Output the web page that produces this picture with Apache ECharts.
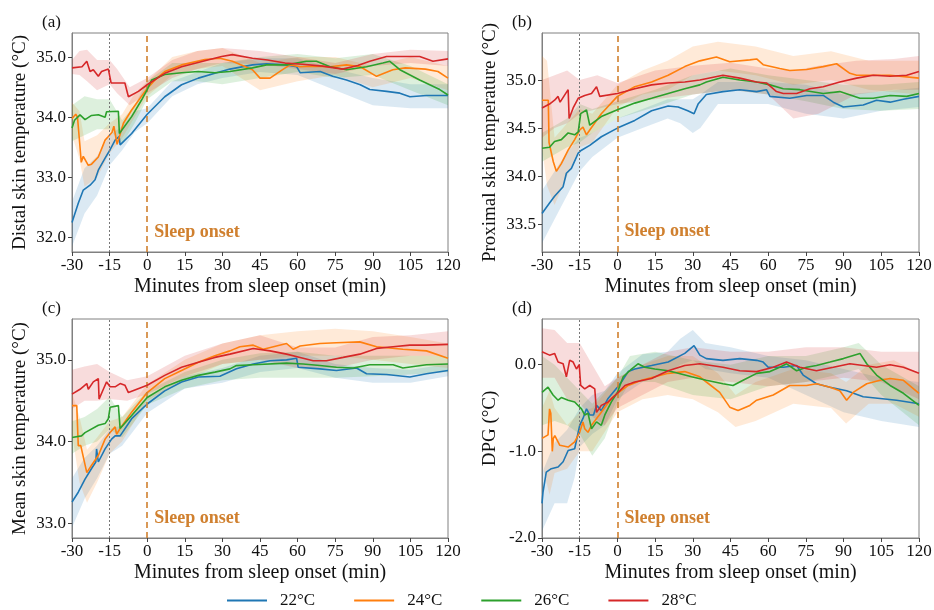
<!DOCTYPE html>
<html><head><meta charset="utf-8">
<script src="https://cdn.jsdelivr.net/npm/echarts@6/dist/echarts.min.js"></script>
<style>html,body{margin:0;padding:0;background:#fff}#c{width:934px;height:610px}</style>
</head><body><div id="c"></div>
<script>
// ---------- labels ----------
const temps = ['22°C', '24°C', '26°C', '28°C'];
const panelLetters = ['(a)', '(b)', '(c)', '(d)'];
const yTitles = ['Distal skin temperature (°C)', 'Proximal skin temperature (°C)', 'Mean skin temperature (°C)', 'DPG (°C)'];
const xTitle = 'Minutes from sleep onset (min)';
const xTicks = [-30, -15, 0, 15, 30, 45, 60, 75, 90, 105, 120];
const yTicksA = [32.0, 33.0, 34.0, 35.0];
const yTicksB = [33.5, 34.0, 34.5, 35.0];
const yTicksC = [33.0, 34.0, 35.0];
const yTicksD = [-2.0, -1.0, 0.0];
const yRanges = [[31.76, 35.40], [33.21, 35.49], [32.82, 35.50], [-2.0, 0.527]];
const sleepOnsetLabelY = [32.09, 33.42, 33.06, -1.77];
const markerLines = [-15, 0];

// ---------- (a) distal ----------
const distal22 = [[-30,32.25],[-27.5,32.57],[-25.5,32.79],[-22.8,32.87],[-20.8,32.96],[-19.5,33.12],[-16.8,33.32],[-14.8,33.46],[-12.8,33.62],[-11.2,33.68],[-10.8,33.54],[-6.2,33.73],[0,34.05],[7,34.34],[13.7,34.54],[20.4,34.65],[27,34.73],[33,34.8],[42,34.87],[47.6,34.89],[55.6,34.87],[59.6,34.84],[61,34.74],[69,34.76],[74,34.68],[79.5,34.62],[85,34.54],[88.8,34.46],[95.5,34.43],[100.8,34.4],[104.8,34.34],[111.4,34.36],[120,34.36]];
const distal24 = [[-30,33.98],[-28.5,34.05],[-27.8,34.0],[-27,33.6],[-26.3,33.25],[-25.5,33.35],[-23.5,33.2],[-22.2,33.22],[-19.5,33.34],[-16.8,33.62],[-15.5,33.68],[-14,33.75],[-13.3,33.85],[-12,33.55],[-9.5,33.9],[-6.2,34.12],[0,34.48],[3.1,34.62],[7,34.76],[13.7,34.87],[23,34.96],[29,34.98],[34,34.93],[42,34.79],[45,34.65],[49,34.65],[54,34.79],[57,34.87],[61,34.84],[66,34.85],[73,34.84],[79.5,34.87],[85,34.84],[91.5,34.68],[98,34.79],[103,34.82],[111,34.8],[116,34.76],[120,34.65]];
const distal26 = [[-30,33.82],[-29,33.95],[-26.8,34.04],[-24.8,33.96],[-22.2,34.03],[-19.5,34.04],[-16.8,34.0],[-16.2,34.09],[-11.5,34.1],[-11.1,33.73],[-6.2,34.01],[-2.2,34.29],[0,34.46],[1.8,34.62],[7,34.71],[13.7,34.74],[20.4,34.76],[27,34.74],[33,34.76],[42,34.82],[47.6,34.87],[55.6,34.87],[63.5,34.93],[67.5,34.93],[73,34.84],[79.5,34.79],[87.5,34.84],[94,34.9],[96.8,34.93],[100.8,34.79],[108.7,34.62],[116.7,34.46],[120,34.37]];
const distal28 = [[-30,34.82],[-26,34.84],[-24.1,34.93],[-22.8,34.76],[-21.5,34.79],[-19.5,34.68],[-18.2,34.76],[-15.5,34.8],[-14.8,34.82],[-14.4,34.57],[-8.9,34.57],[-7.5,34.34],[-3.5,34.43],[0,34.54],[7,34.73],[13.7,34.84],[23,34.94],[29.7,35.01],[34,35.04],[42,34.98],[48,34.95],[55,34.9],[62,34.88],[70,34.85],[78,34.8],[84,34.86],[88.8,34.93],[95.5,35.01],[108.7,35.01],[114,34.93],[120,34.97]];
const distal22Band = [[-30,31.85,32.6],[-25,32.4,33.15],[-20,32.7,33.35],[-15,33.2,33.7],[-10,33.45,33.85],[-5,33.75,34.1],[0,33.9,34.15],[10,34.35,34.6],[20,34.55,34.75],[30,34.65,34.9],[45,34.75,34.98],[60,34.7,34.98],[75,34.45,34.8],[90,34.2,34.65],[105,34.15,34.55],[120,34.15,34.55]];
const distal24Band = [[-30,33.7,34.25],[-27,33.3,34.1],[-25,32.85,33.6],[-20,33.0,33.7],[-15,33.4,33.9],[-10,33.65,34.05],[-5,34.0,34.4],[0,34.35,34.6],[10,34.7,35.0],[20,34.8,35.1],[30,34.85,35.15],[45,34.45,34.9],[60,34.6,35.0],[75,34.7,35.0],[90,34.5,34.85],[105,34.65,35.0],[120,34.45,34.85]];
const distal26Band = [[-30,33.6,34.2],[-25,33.7,34.35],[-20,33.8,34.3],[-15,33.8,34.3],[-10,33.55,33.95],[-5,33.9,34.2],[0,34.3,34.6],[10,34.6,34.9],[20,34.6,34.9],[30,34.55,34.9],[45,34.65,35.0],[60,34.75,35.05],[75,34.65,34.98],[90,34.7,35.05],[105,34.45,34.85],[120,34.2,34.55]];
const distal28Band = [[-30,34.72,34.95],[-27,34.7,35.1],[-24,34.6,35.12],[-20,34.45,34.95],[-15,34.55,34.95],[-12,34.4,34.8],[-7,34.2,34.5],[0,34.4,34.65],[10,34.65,34.95],[20,34.8,35.1],[30,34.9,35.15],[45,34.88,35.1],[60,34.8,35.0],[75,34.72,34.9],[90,34.85,35.05],[105,34.9,35.12],[120,34.85,35.1]];

// ---------- (b) proximal ----------
const proximal22 = [[-30,33.61],[-27,33.72],[-25,33.79],[-21.6,33.89],[-20.3,34.03],[-18.3,34.08],[-15.6,34.24],[-14.3,34.27],[-11,34.32],[-6.4,34.41],[0,34.5],[6.9,34.58],[13.6,34.68],[20.2,34.73],[24.2,34.72],[28,34.68],[30.5,34.65],[32.1,34.75],[35.4,34.85],[42,34.88],[48.7,34.9],[55.4,34.88],[59.3,34.9],[60.7,34.83],[68.6,34.81],[75.3,34.84],[81.9,34.84],[85.9,34.77],[89.9,34.72],[97.8,34.74],[103.1,34.79],[108.5,34.77],[113.8,34.8],[120,34.83]];
const proximal24 = [[-30,34.79],[-27.5,34.79],[-27.2,34.35],[-25.5,34.15],[-24.3,34.05],[-22.3,34.13],[-19.6,34.27],[-17,34.38],[-15,34.48],[-13.7,34.51],[-12.3,34.43],[-11,34.48],[-6.4,34.65],[0,34.83],[6.9,34.93],[13.6,34.98],[20.2,35.05],[26.8,35.14],[32.8,35.2],[39.4,35.24],[44.7,35.19],[52.7,35.21],[55.4,35.22],[58,35.16],[64.6,35.12],[68.6,35.1],[75.3,35.11],[81.9,35.14],[87.2,35.17],[92.5,35.07],[95.2,35.05],[108.5,35.05],[120,35.02]];
const proximal26 = [[-30,34.29],[-27,34.3],[-25,34.36],[-22.3,34.38],[-19.6,34.45],[-17,34.43],[-15.6,34.46],[-14.6,34.65],[-12.3,34.69],[-11,34.53],[-6.4,34.62],[0,34.69],[6.9,34.76],[13.6,34.81],[20.2,34.86],[26.8,34.91],[32.8,34.95],[35.4,34.98],[42,35.03],[48.7,35.0],[55.4,34.98],[60.7,34.95],[66,34.91],[72.6,34.9],[81.9,34.86],[88.5,34.88],[96.5,34.81],[101.8,34.81],[108.5,34.84],[115.1,34.83],[120,34.86]];
const proximal28 = [[-30,34.71],[-27,34.75],[-25,34.79],[-23.6,34.83],[-22.8,34.77],[-19.6,34.9],[-19.2,34.6],[-17.6,34.71],[-15.6,34.81],[-13,34.84],[-10.3,34.86],[-8.3,34.93],[-7,34.83],[0,34.86],[3,34.88],[6.9,34.91],[13.6,34.95],[20.2,34.97],[26.8,34.98],[32.8,35.0],[42,35.05],[48.7,35.02],[55.4,34.98],[59.3,34.97],[63.3,34.88],[66,34.86],[71.3,34.86],[76.6,34.91],[81.9,34.93],[88.5,34.98],[95.2,35.02],[101.8,35.05],[108.5,35.04],[115.1,35.05],[120,35.09]];
const proximal22Band = [[-30,33.3,33.85],[-25,33.55,34.05],[-20,33.8,34.25],[-15,34.05,34.4],[-10,34.2,34.45],[0,34.4,34.6],[10,34.5,34.7],[20,34.6,34.8],[25,34.55,34.8],[30,34.45,34.8],[33,34.5,34.85],[40,34.75,34.98],[60,34.75,34.98],[75,34.65,34.95],[90,34.6,34.85],[105,34.68,34.88],[120,34.72,34.92]];
const proximal24Band = [[-30,34.3,35.25],[-28,33.9,35.2],[-25,33.7,34.4],[-20,34.0,34.55],[-15,34.3,34.7],[-10,34.35,34.65],[0,34.72,34.95],[10,34.85,35.1],[20,34.9,35.2],[30,35.05,35.35],[40,35.1,35.4],[55,35.05,35.35],[70,34.95,35.25],[85,35.0,35.3],[100,34.9,35.2],[120,34.85,35.2]];
const proximal26Band = [[-30,34.15,34.45],[-20,34.3,34.6],[-15,34.35,34.75],[-10,34.45,34.7],[0,34.6,34.78],[15,34.72,34.9],[30,34.85,35.05],[45,34.9,35.12],[60,34.85,35.05],[75,34.78,35.0],[90,34.7,34.95],[105,34.68,34.95],[120,34.7,34.98]];
const proximal28Band = [[-30,34.4,35.0],[-25,34.5,35.05],[-20,34.55,35.1],[-15,34.65,35.0],[-8,34.7,35.05],[0,34.75,34.97],[15,34.8,35.1],[30,34.85,35.15],[45,34.9,35.18],[60,34.85,35.12],[70,34.6,35.1],[80,34.65,35.15],[95,34.85,35.2],[110,34.9,35.22],[120,34.9,35.25]];

// ---------- (c) mean ----------
const mean22 = [[-30,33.26],[-27.5,33.38],[-24.8,33.54],[-22.2,33.67],[-20.5,33.75],[-20.2,33.91],[-19.5,33.75],[-16.8,33.91],[-14.2,34.03],[-12.8,34.07],[-10.8,34.07],[-6.2,34.28],[0,34.46],[7,34.62],[13.7,34.73],[20.4,34.79],[29,34.8],[35.6,34.89],[42.3,34.95],[49,34.99],[55.6,35.0],[59.6,35.02],[60.2,34.91],[68.9,34.89],[75.5,34.87],[83.5,34.9],[87.5,34.83],[95.5,34.82],[104.8,34.79],[111.4,34.83],[120,34.87]];
const mean24 = [[-30,34.44],[-28.1,34.44],[-27.5,33.95],[-26.5,33.95],[-24.1,33.62],[-22.2,33.71],[-19.5,33.83],[-16.8,34.03],[-14.8,34.11],[-12.8,34.18],[-12.2,34.09],[-10.8,34.16],[-6.2,34.36],[0,34.6],[7,34.77],[13.7,34.87],[20.4,34.97],[27,35.05],[33,35.11],[37,35.16],[42.3,35.18],[46.3,35.13],[55.6,35.2],[58.2,35.13],[61,35.17],[68.9,35.2],[75.5,35.21],[84.8,35.22],[91.5,35.16],[102,35.13],[111.4,35.11],[120,35.02]];
const mean26 = [[-30,34.05],[-26.2,34.07],[-24.8,34.11],[-19.5,34.2],[-16.8,34.22],[-15.5,34.28],[-14.8,34.42],[-11.5,34.44],[-10.8,34.16],[-6.2,34.32],[0,34.54],[7,34.67],[13.7,34.75],[20.4,34.81],[27,34.85],[33,34.89],[35.6,34.93],[42.3,34.94],[55.6,34.96],[62.2,34.95],[68.9,34.93],[75.5,34.91],[82.2,34.9],[88.8,34.94],[98.1,34.94],[102,34.9],[111.4,34.94],[120,34.95]];
const mean28 = [[-30,34.58],[-26.8,34.64],[-24.1,34.71],[-23.5,34.64],[-21.5,34.73],[-19.5,34.77],[-19.2,34.52],[-17.5,34.64],[-16.2,34.73],[-14.8,34.67],[-12.8,34.67],[-10.8,34.71],[-8.9,34.69],[-7.5,34.6],[0,34.69],[7,34.81],[13.7,34.91],[20.4,34.97],[27,35.03],[33,35.07],[42.3,35.14],[49,35.11],[55.6,35.07],[61,35.03],[66.2,34.99],[71.5,34.99],[78.2,35.03],[84.8,35.07],[91.5,35.14],[98.1,35.16],[104.8,35.18],[111.4,35.18],[120,35.19]];
const mean22Band = [[-30,32.95,33.55],[-25,33.3,33.8],[-20,33.55,33.95],[-15,33.85,34.15],[-10,33.95,34.2],[0,34.35,34.55],[15,34.65,34.8],[30,34.72,34.9],[45,34.85,35.05],[60,34.9,35.1],[75,34.78,34.95],[90,34.72,34.9],[105,34.72,34.88],[120,34.8,34.95]];
const mean24Band = [[-30,34.1,34.6],[-27,33.5,34.3],[-24,33.25,33.9],[-20,33.5,34.05],[-15,33.85,34.25],[-10,34.0,34.3],[0,34.5,34.7],[15,34.75,35.0],[30,34.95,35.2],[45,35.0,35.3],[60,35.05,35.35],[75,35.05,35.38],[90,35.0,35.35],[105,34.95,35.28],[120,34.9,35.2]];
const mean26Band = [[-30,33.85,34.25],[-25,33.95,34.3],[-20,34.0,34.4],[-15,34.15,34.55],[-10,34.05,34.3],[0,34.45,34.62],[15,34.65,34.85],[30,34.75,35.0],[45,34.78,35.08],[60,34.78,35.1],[75,34.78,35.05],[90,34.8,35.05],[105,34.82,35.05],[120,34.85,35.05]];
const mean28Band = [[-30,34.4,34.88],[-25,34.5,34.92],[-20,34.5,34.95],[-15,34.52,34.85],[-8,34.5,34.75],[0,34.58,34.8],[15,34.8,35.05],[30,34.95,35.2],[45,35.0,35.3],[60,34.9,35.15],[75,34.9,35.15],[90,35.0,35.28],[105,35.05,35.3],[120,35.05,35.35]];

// ---------- (d) DPG ----------
const dpg22 = [[-30,-1.6],[-29.6,-1.47],[-28.3,-1.24],[-26.3,-1.2],[-23.6,-1.18],[-21.6,-1.12],[-19.6,-0.99],[-17,-0.97],[-15,-0.7],[-13.7,-0.62],[-12.3,-0.51],[-11,-0.58],[-9.5,-0.58],[-8.3,-0.47],[-6.4,-0.53],[-3.7,-0.39],[0,-0.26],[1.6,-0.2],[4.3,-0.08],[6.9,-0.05],[13.6,-0.01],[20.2,0.03],[26.8,0.13],[30.5,0.22],[32.8,0.11],[35.4,0.07],[42,0.05],[48.7,0.07],[55.4,0.05],[58,0.03],[60,-0.03],[66,-0.03],[71.3,-0.01],[73.9,-0.12],[79.2,-0.22],[84.6,-0.26],[91.2,-0.3],[97.8,-0.37],[104.5,-0.39],[111.1,-0.41],[120,-0.45]];
const dpg24 = [[-30,-0.85],[-27.6,-0.81],[-27,-0.51],[-26.5,-0.56],[-25.9,-1.0],[-25.5,-0.85],[-24.9,-0.82],[-22.9,-0.93],[-19.6,-0.95],[-17,-0.89],[-15,-0.78],[-13.7,-0.66],[-13,-0.74],[-11.7,-0.78],[-10.3,-0.7],[-6.4,-0.55],[-2.4,-0.39],[0,-0.33],[4.3,-0.24],[9.6,-0.18],[14.9,-0.14],[20.2,-0.1],[26.8,-0.08],[32.8,-0.14],[35.4,-0.2],[40.7,-0.32],[44.7,-0.49],[48,-0.53],[52.7,-0.47],[55.4,-0.41],[62,-0.35],[68.6,-0.24],[75.3,-0.24],[79.2,-0.22],[84.6,-0.26],[88.5,-0.3],[91.2,-0.41],[93.8,-0.32],[99.2,-0.22],[104.5,-0.18],[108.5,-0.16],[113.8,-0.18],[120,-0.33]];
const dpg26 = [[-30,-0.32],[-27.6,-0.26],[-25.6,-0.35],[-23.6,-0.41],[-22.3,-0.38],[-19.6,-0.41],[-17,-0.43],[-14.3,-0.51],[-13,-0.58],[-11.7,-0.56],[-10.3,-0.74],[-8.3,-0.66],[-6.4,-0.7],[-5,-0.58],[-2.4,-0.43],[0,-0.32],[2.3,-0.14],[5.6,-0.05],[8.2,0.01],[10.9,-0.03],[14.9,-0.05],[20.2,-0.07],[24.2,-0.1],[29.5,-0.14],[35.4,-0.18],[42,-0.22],[46,-0.24],[50,-0.18],[55.4,-0.1],[60.7,-0.08],[64.6,-0.03],[67.3,0.01],[71.3,-0.07],[75.3,-0.03],[79.2,-0.01],[84.6,0.03],[89.9,0.07],[96.5,0.13],[99.2,0.01],[103.1,-0.12],[108.5,-0.24],[113.8,-0.33],[120,-0.47]];
const dpg28 = [[-30,0.15],[-27,0.11],[-25,0.13],[-23.6,0.03],[-21.6,0.01],[-20.3,-0.14],[-19,0.05],[-17.6,0.03],[-16.3,-0.05],[-15.2,0.0],[-14.6,-0.24],[-13,-0.28],[-11,-0.24],[-9,-0.28],[-8.3,-0.55],[-6.4,-0.47],[-3.7,-0.43],[0,-0.33],[3,-0.24],[6.9,-0.2],[13.6,-0.16],[20.2,-0.07],[26.8,-0.01],[32.8,0.01],[42,-0.03],[48.7,-0.07],[55.4,-0.08],[62,-0.03],[67.3,0.03],[72.6,-0.03],[79.2,-0.07],[85.9,-0.03],[92.5,0.01],[97.8,-0.01],[103.1,-0.03],[108.5,0.0],[113.8,-0.03],[120,-0.1]];
const dpg22Band = [[-30,-1.92,-1.25],[-25,-1.6,-0.9],[-20,-1.6,-0.75],[-17,-1.3,-0.6],[-15,-0.95,-0.5],[-10,-0.8,-0.35],[-5,-0.7,-0.3],[0,-0.4,-0.1],[10,-0.2,0.12],[20,-0.1,0.15],[25,0.0,0.3],[30,0.05,0.4],[35,-0.05,0.25],[45,-0.1,0.2],[60,-0.15,0.1],[75,-0.35,0.05],[90,-0.55,-0.05],[105,-0.65,-0.15],[120,-0.72,-0.2]];
const dpg24Band = [[-30,-1.15,-0.5],[-27,-1.5,-0.3],[-25,-1.25,-0.5],[-20,-1.2,-0.7],[-15,-1.0,-0.55],[-10,-1.0,-0.5],[0,-0.55,-0.15],[10,-0.4,0.0],[20,-0.35,0.1],[30,-0.4,0.1],[40,-0.55,-0.1],[47,-0.72,-0.35],[55,-0.65,-0.2],[70,-0.45,-0.05],[85,-0.5,-0.1],[91,-0.68,-0.2],[100,-0.45,0.0],[110,-0.45,0.05],[120,-0.6,-0.1]];
const dpg26Band = [[-30,-0.7,0.1],[-25,-0.65,0.0],[-20,-0.7,-0.15],[-15,-0.8,-0.3],[-10,-1.05,-0.45],[-5,-0.85,-0.3],[0,-0.45,-0.15],[5,-0.2,0.1],[15,-0.2,0.15],[30,-0.35,0.05],[45,-0.4,0.0],[60,-0.25,0.1],[75,-0.2,0.1],[90,-0.1,0.2],[96,-0.05,0.25],[105,-0.35,0.0],[120,-0.7,-0.25]];
const dpg28Band = [[-30,-0.15,0.42],[-25,-0.15,0.4],[-20,-0.4,0.25],[-15,-0.45,0.25],[-10,-0.6,0.0],[-5,-0.7,-0.25],[0,-0.5,-0.15],[10,-0.35,0.0],[20,-0.2,0.15],[30,-0.15,0.2],[45,-0.2,0.15],[60,-0.25,0.15],[75,-0.2,0.2],[90,-0.15,0.2],[105,-0.2,0.15],[120,-0.4,0.15]];

// ---------- assembly ----------
const panelMeans = [[distal22, distal24, distal26, distal28],[proximal22, proximal24, proximal26, proximal28],[mean22, mean24, mean26, mean28],[dpg22, dpg24, dpg26, dpg28]];
const panelBands = [[distal22Band, distal24Band, distal26Band, distal28Band],[proximal22Band, proximal24Band, proximal26Band, proximal28Band],[mean22Band, mean24Band, mean26Band, mean28Band],[dpg22Band, dpg24Band, dpg26Band, dpg28Band]];
const panelYTicks = [yTicksA, yTicksB, yTicksC, yTicksD];

const COLORS = ['#1f77b4', '#ff7f0e', '#2ca02c', '#d62728'];
const ONSET = '#d0802f';
const FONT = "'Liberation Serif','Times New Roman',serif";
const grids = [
  {left: 72, top: 33, width: 376, height: 219},
  {left: 542, top: 33, width: 377, height: 219},
  {left: 72, top: 319, width: 376, height: 219},
  {left: 542, top: 319, width: 377, height: 219}
];

const chart = echarts.init(document.getElementById('c'), null, {renderer: 'canvas'});
const xAxes = [], yAxes = [], series = [], graphics = [];

grids.forEach((g, p) => {
  g.show = true; g.borderColor = '#808080'; g.borderWidth = 1; g.backgroundColor = 'transparent';
  g.containLabel = false; g.outerBoundsMode = 'none';
  xAxes.push({
    type: 'value', gridIndex: p, min: -30, max: 120, interval: 15,
    name: xTitle, nameLocation: 'middle', nameGap: 25,
    nameTextStyle: {fontFamily: FONT, fontSize: 20, color: '#111'},
    axisLine: {show: true, onZero: false, lineStyle: {color: '#808080', width: 1}},
    axisTick: {show: true, length: 4, lineStyle: {color: '#444'}, customValues: xTicks},
    axisLabel: {fontFamily: FONT, fontSize: 17, color: '#111', margin: 5, customValues: xTicks,
      showMinLabel: true, showMaxLabel: true, hideOverlap: false},
    splitLine: {show: false}
  });
  const yt = panelYTicks[p];
  yAxes.push({
    type: 'value', gridIndex: p, min: yRanges[p][0], max: yRanges[p][1],
    name: yTitles[p], nameLocation: 'middle', nameGap: 42, nameRotate: 90,
    nameTextStyle: {fontFamily: FONT, fontSize: 19, color: '#111'},
    axisLine: {show: true, onZero: false, lineStyle: {color: '#808080', width: 1}},
    axisTick: {show: true, length: 4, lineStyle: {color: '#444'}, customValues: yt},
    axisLabel: {fontFamily: FONT, fontSize: 17, color: '#111', margin: 6, customValues: yt,
      formatter: v => Number(v).toFixed(1), hideOverlap: false},
    splitLine: {show: false}
  });
  // bands
  panelBands[p].forEach((band, i) => {
    series.push({
      type: 'custom', name: 'band' + p + i, xAxisIndex: p, yAxisIndex: p, silent: true, z: 1,
      clip: true, animation: false,
      data: [[band[0][0], band[0][1]]],
      renderItem: (params, api) => {
        const up = band.map(b => api.coord([b[0], b[2]]));
        const lo = band.slice().reverse().map(b => api.coord([b[0], b[1]]));
        return {type: 'polygon', shape: {points: up.concat(lo)}, style: {fill: COLORS[i], opacity: 0.16}};
      }
    });
  });
  // mean lines
  panelMeans[p].forEach((arr, i) => {
    const s = {
      type: 'line', name: temps[i], xAxisIndex: p, yAxisIndex: p, data: arr,
      symbol: 'none', showSymbol: false, z: 3 + i, animation: false,
      lineStyle: {width: 1.6, color: COLORS[i]}, itemStyle: {color: COLORS[i]}
    };
    if (i === 0) {
      s.markLine = {
        silent: true, symbol: 'none', animation: false, label: {show: false},
        data: [
          {xAxis: markerLines[0], lineStyle: {color: '#777', type: [2, 2], width: 1}},
          {xAxis: markerLines[1], lineStyle: {color: ONSET, type: [6, 4], width: 1.6}}
        ]
      };
      s.markPoint = {
        silent: true, animation: false, symbol: 'circle', symbolSize: 0,
        data: [{coord: [markerLines[1], sleepOnsetLabelY[p]]}],
        label: {show: true, position: 'right', distance: 7, formatter: 'Sleep onset',
          fontFamily: FONT, fontSize: 18, fontWeight: 'bold', color: ONSET}
      };
    }
    series.push(s);
  });
  graphics.push({
    type: 'text', left: g.left - 30, top: g.top - 19,
    style: {text: panelLetters[p], font: '17px ' + FONT, fill: '#111'}
  });
});

chart.setOption({
  backgroundColor: '#fff',
  animation: false,
  grid: grids,
  xAxis: xAxes,
  yAxis: yAxes,
  legend: {
    data: temps, left: 222, top: 587, itemWidth: 40, itemHeight: 14, itemGap: 39,
    selectedMode: false, icon: 'path://M0,6 L40,6 L40,8 L0,8 Z',
    textStyle: {fontFamily: FONT, fontSize: 17, color: '#111', padding: [0, 0, 0, 8]}
  },
  graphic: graphics,
  series: series
});
</script>
</body></html>
